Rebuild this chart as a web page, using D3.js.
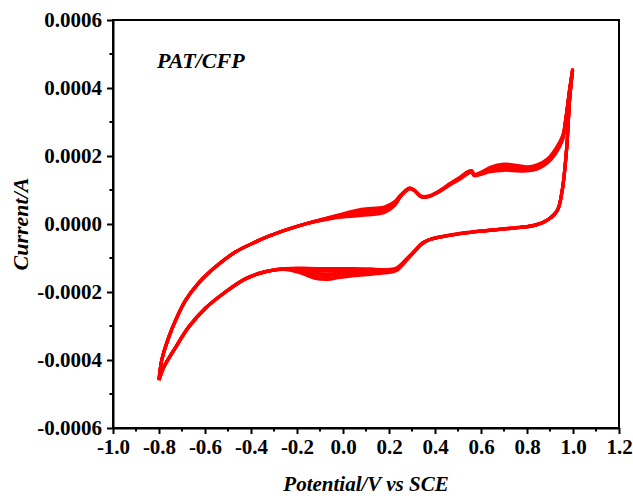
<!DOCTYPE html>
<html><head><meta charset="utf-8">
<script src="https://cdn.jsdelivr.net/npm/d3@7"></script>
<style>body{margin:0;background:#fff}svg{display:block}text{font-family:"Liberation Serif","Times New Roman",serif;font-weight:bold}</style>
</head><body><svg id="c" width="633" height="496"></svg>
<script>
// Potential (V vs SCE), forward (upper) branch
const fwdV = [-0.80,-0.788,-0.757,-0.727,-0.684,-0.628,-0.554,-0.467,-0.381,-0.324,-0.18,-0.034,0.08,0.18,0.225,0.252,0.29,0.31,0.34,0.37,0.41,0.47,0.51,0.54,0.56,0.57,0.60,0.64,0.70,0.76,0.80,0.845,0.89,0.925,0.955,0.968,0.985,0.998];
// Current (x1e-4 A), forward branch, five overlapping cycles
const fwdI1 = [-4.59,-4.00,-3.32,-2.82,-2.24,-1.74,-1.26,-0.82,-0.53,-0.36,-0.03,0.24,0.43,0.50,0.66,0.86,1.06,1.00,0.82,0.82,0.94,1.21,1.38,1.53,1.57,1.46,1.52,1.67,1.76,1.72,1.68,1.74,1.92,2.22,2.60,3.08,3.96,4.54];
const fwdI2 = [-4.59,-4.00,-3.32,-2.82,-2.24,-1.74,-1.26,-0.82,-0.53,-0.36,-0.03,0.18,0.25,0.34,0.55,0.82,1.04,0.98,0.80,0.80,0.92,1.17,1.33,1.47,1.52,1.42,1.46,1.54,1.58,1.56,1.56,1.62,1.80,2.08,2.48,3.00,3.90,4.50];
const fwdI3 = [-4.59,-4.00,-3.32,-2.82,-2.24,-1.74,-1.26,-0.82,-0.53,-0.36,-0.03,0.21,0.34,0.42,0.60,0.84,1.05,0.99,0.81,0.81,0.93,1.19,1.36,1.50,1.55,1.44,1.49,1.60,1.67,1.64,1.62,1.68,1.86,2.15,2.54,3.04,3.93,4.52];
const fwdI4 = [-4.59,-4.00,-3.32,-2.82,-2.24,-1.74,-1.26,-0.82,-0.53,-0.36,-0.03,0.22,0.38,0.46,0.63,0.85,1.05,0.99,0.81,0.81,0.93,1.20,1.37,1.51,1.56,1.45,1.50,1.63,1.71,1.68,1.65,1.71,1.89,2.18,2.57,3.06,3.94,4.53];
const fwdI5 = [-4.59,-4.00,-3.32,-2.82,-2.24,-1.74,-1.26,-0.82,-0.53,-0.36,-0.03,0.19,0.30,0.38,0.57,0.83,1.04,0.98,0.80,0.80,0.92,1.18,1.34,1.48,1.53,1.43,1.47,1.57,1.62,1.60,1.59,1.65,1.83,2.11,2.51,3.02,3.91,4.51];
// Reverse (lower) branch
const revV = [0.998,0.985,0.975,0.966,0.953,0.932,0.888,0.832,0.728,0.585,0.468,0.382,0.355,0.338,0.31,0.28,0.23,0.18,0.12,0.05,-0.02,-0.065,-0.12,-0.18,-0.25,-0.337,-0.424,-0.511,-0.597,-0.671,-0.727,-0.779,-0.80];
const revI1 = [4.54,3.65,2.47,1.74,1.00,0.41,0.12,-0.03,-0.12,-0.21,-0.32,-0.44,-0.52,-0.60,-0.80,-1.00,-1.30,-1.34,-1.32,-1.31,-1.31,-1.31,-1.31,-1.30,-1.31,-1.40,-1.61,-2.00,-2.47,-3.03,-3.62,-4.21,-4.59];
const revI2 = [4.50,3.62,2.45,1.72,0.98,0.40,0.11,-0.04,-0.13,-0.22,-0.33,-0.45,-0.53,-0.61,-0.82,-1.04,-1.38,-1.44,-1.48,-1.52,-1.58,-1.63,-1.60,-1.45,-1.34,-1.41,-1.62,-2.00,-2.47,-3.03,-3.62,-4.21,-4.59];
const revI3 = [4.52,3.63,2.46,1.73,0.99,0.40,0.11,-0.04,-0.13,-0.22,-0.33,-0.45,-0.53,-0.61,-0.81,-1.02,-1.34,-1.39,-1.40,-1.42,-1.45,-1.47,-1.45,-1.38,-1.32,-1.40,-1.61,-2.00,-2.47,-3.03,-3.62,-4.21,-4.59];
const revI4 = [4.53,3.64,2.46,1.73,0.99,0.40,0.11,-0.04,-0.13,-0.22,-0.33,-0.45,-0.53,-0.61,-0.80,-1.01,-1.32,-1.36,-1.36,-1.36,-1.38,-1.39,-1.38,-1.34,-1.31,-1.40,-1.61,-2.00,-2.47,-3.03,-3.62,-4.21,-4.59];
const revI5 = [4.51,3.62,2.45,1.72,0.98,0.40,0.11,-0.04,-0.13,-0.22,-0.33,-0.45,-0.53,-0.61,-0.81,-1.03,-1.36,-1.41,-1.44,-1.47,-1.51,-1.55,-1.52,-1.41,-1.33,-1.40,-1.61,-2.00,-2.47,-3.03,-3.62,-4.21,-4.59];
const xTicks = [-1.0,-0.8,-0.6,-0.4,-0.2,0.0,0.2,0.4,0.6,0.8,1.0,1.2];
const yTicks = [-0.0006,-0.0004,-0.0002,0,0.0002,0.0004,0.0006];
const xLabels = ["-1.0","-0.8","-0.6","-0.4","-0.2","0.0","0.2","0.4","0.6","0.8","1.0","1.2"];
const yLabels = ["-0.0006","-0.0004","-0.0002","0.0000","0.0002","0.0004","0.0006"];
const xMinor = [-0.9,-0.7,-0.5,-0.3,-0.1,0.1,0.3,0.5,0.7,0.9,1.1];
const yMinor = [-0.0005,-0.0003,-0.0001,0.0001,0.0003,0.0005];

const svg = d3.select("#c");
const L=113, R=619, T=20, B=428;
const x = d3.scaleLinear().domain([-1.0,1.2]).range([L,R]);
const y = d3.scaleLinear().domain([-0.0006,0.0006]).range([B,T]);

const line = d3.line().x(d=>x(d[0])).y(d=>y(d[1]*1e-4)).curve(d3.curveCatmullRom.alpha(0.5));
const cycles = [[fwdI1,revI1],[fwdI4,revI4],[fwdI3,revI3],[fwdI5,revI5],[fwdI2,revI2]];
cycles.forEach(([f,r])=>{
  const pts = fwdV.map((v,i)=>[v,f[i]]).concat(revV.map((v,i)=>[v,r[i]]));
  svg.append("path").attr("d",line(pts)).attr("fill","none").attr("stroke","#ff0000").attr("stroke-width",3.2).attr("stroke-linejoin","round");
});

// frame
svg.append("rect").attr("x",L).attr("y",T).attr("width",R-L).attr("height",B-T).attr("fill","none").attr("stroke","#000").attr("stroke-width",2);

// axes
const xa = svg.append("g").attr("transform",`translate(0,${B})`)
  .call(d3.axisBottom(x).tickValues(xTicks).tickFormat((d,i)=>xLabels[i]).tickSize(6).tickSizeOuter(0).tickPadding(5));
const ya = svg.append("g").attr("transform",`translate(${L},0)`)
  .call(d3.axisLeft(y).tickValues(yTicks).tickFormat((d,i)=>yLabels[i]).tickSize(6).tickSizeOuter(0).tickPadding(5));
[xa,ya].forEach(g=>{
  g.select(".domain").attr("stroke-width",2);
  g.selectAll(".tick line").attr("stroke-width",2);
  g.selectAll(".tick text").attr("font-size",21).attr("font-family","Liberation Serif").attr("font-weight","bold").attr("fill","#000");
});
svg.append("g").selectAll("line").data(xMinor).join("line")
  .attr("x1",d=>x(d)).attr("x2",d=>x(d)).attr("y1",B).attr("y2",B+3.5).attr("stroke","#000").attr("stroke-width",2);
svg.append("g").selectAll("line").data(yMinor).join("line")
  .attr("y1",d=>y(d)).attr("y2",d=>y(d)).attr("x1",L).attr("x2",L-3.5).attr("stroke","#000").attr("stroke-width",2);

svg.append("text").attr("x",366).attr("y",491).attr("text-anchor","middle").attr("font-size",21).attr("font-style","italic").text("Potential/V vs SCE");
svg.append("text").attr("transform",`translate(28,${(T+B)/2}) rotate(-90)`).attr("text-anchor","middle").attr("font-size",22).attr("font-style","italic").text("Current/A");
svg.append("text").attr("x",157).attr("y",68).attr("font-size",22).attr("font-style","italic").text("PAT/CFP");
</script></body></html>
